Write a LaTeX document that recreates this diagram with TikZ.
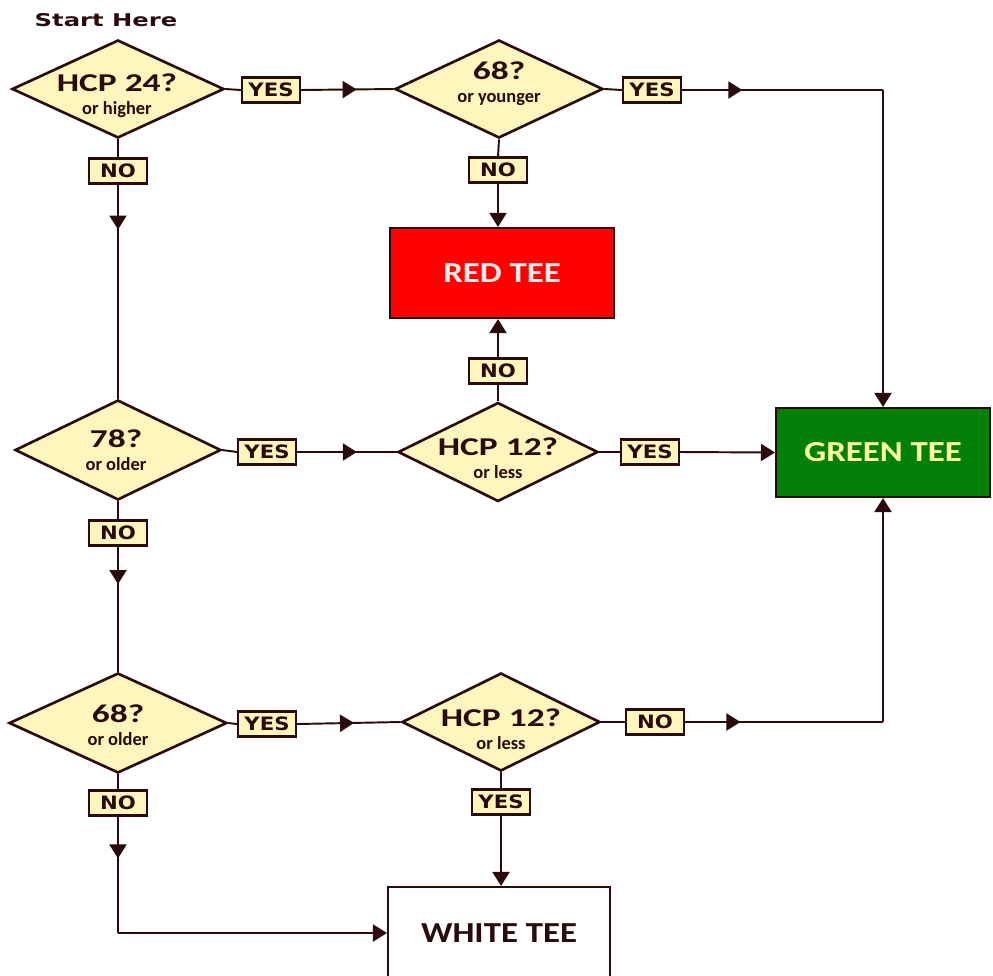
\documentclass[tikz,border=0pt]{standalone}
\usepackage{fontspec}
\usetikzlibrary{shapes.geometric,arrows.meta,decorations.markings}
\newfontfamily\dfont[FakeStretch=1.38]{Carlito}
\newfontfamily\sfontx{Carlito}
\newfontfamily\tfont[FakeStretch=1.2]{Carlito}
\newfontfamily\lfont[FakeStretch=1.15]{DejaVu Sans}
\newfontfamily\hfont[FakeStretch=1.38]{DejaVu Sans}
\definecolor{dk}{RGB}{42,10,10}
\definecolor{pale}{RGB}{255,246,190}
\definecolor{tgreen}{RGB}{2,128,8}
\definecolor{tred}{RGB}{255,0,0}
\definecolor{gtext}{RGB}{255,255,160}
\tikzset{
  dia/.style={shape=diamond, draw=dk, fill=pale, line width=1.5pt, inner sep=0pt},
  dtext/.style={align=center, text=dk, inner sep=0pt},
  lab/.style={draw=dk, fill=pale, line width=1.2pt, minimum width=1.16cm, minimum height=0.5cm, inner sep=0pt, font=\lfont\bfseries\fontsize{10.5}{12}\selectfont, text=dk},
  teebox/.style={draw=dk, line width=1.2pt, inner sep=0pt, font=\tfont\bfseries\fontsize{16.5}{18}\selectfont},
  conn/.style={draw=dk, line width=1.1pt},
  tip/.style={-{Triangle[length=0.28cm,width=0.34cm]}},
  marrow/.style={postaction={decorate}, decoration={markings, mark=at position #1 with {\arrow{Triangle[length=0.28cm,width=0.34cm]}}}}
}
\newcommand\qbig[1]{{\dfont\bfseries\fontsize{14.6}{15}\selectfont #1}}
\newcommand\qsmall[1]{{\sfontx\bfseries\fontsize{10.5}{11}\selectfont #1}}
\begin{document}
\begin{tikzpicture}[x=0.02cm, y=-0.02cm]
\useasboundingbox (0,0) rectangle (993,975);
\fill[white] (0,0) rectangle (993,975);

\node[text=dk, font=\hfont\bfseries\fontsize{10}{12}\selectfont] (start) at (106,20) {Start Here};

% diamonds
\node[dia, minimum width=4.24cm, minimum height=1.96cm] (d1) at (118,89) {};
\node[dia, minimum width=4.16cm, minimum height=1.96cm] (d2) at (499,89) {};
\node[dia, minimum width=4.12cm, minimum height=2.0cm] (d3) at (118,450) {};
\node[dia, minimum width=4.0cm, minimum height=1.98cm] (d4) at (498,452) {};
\node[dia, minimum width=4.36cm, minimum height=2.0cm] (d5) at (118,723) {};
\node[dia, minimum width=3.96cm, minimum height=1.96cm] (d6) at (501,722) {};

\node[dtext] (t1) at (117,96) {\qbig{HCP 24?}\\[1pt]\qsmall{or higher}};
\node[dtext] (t2) at (499,84) {\qbig{68?}\\[1pt]\qsmall{or younger}};
\node[dtext] (t3) at (116,450) {\qbig{78?}\\[1pt]\qsmall{or older}};
\node[dtext] (t4) at (498,458) {\qbig{HCP 12?}\\[1pt]\qsmall{or less}};
\node[dtext] (t5) at (118,725) {\qbig{68?}\\[1pt]\qsmall{or older}};
\node[dtext] (t6) at (501,729) {\qbig{HCP 12?}\\[1pt]\qsmall{or less}};

% tee boxes
\node[teebox, fill=tred, text={rgb,255:red,255;green,236;blue,236}, minimum width=4.48cm, minimum height=1.8cm] (red) at (502,273) {RED TEE};
\node[teebox, fill=tgreen, text=gtext, minimum width=4.28cm, minimum height=1.78cm] (green) at (883,452.5) {GREEN TEE};
\node[teebox, fill=white, text=dk, minimum width=4.44cm, minimum height=1.84cm] (white) at (499,933) {WHITE TEE};

% labels
\node[lab] (y1) at (271,90) {YES};
\node[lab] (n1) at (118,171) {NO};
\node[lab] (y2) at (652,90) {YES};
\node[lab] (n2) at (498,170) {NO};
\node[lab] (n4) at (498,371) {NO};
\node[lab] (y3) at (267,452) {YES};
\node[lab] (y4) at (650,452) {YES};
\node[lab] (n3) at (118,533) {NO};
\node[lab] (y5) at (267,724) {YES};
\node[lab] (n6) at (655,722) {NO};
\node[lab] (y6) at (501,802) {YES};
\node[lab] (n5) at (118,803) {NO};

% corners
\coordinate (c1) at (green.north |- y2.east);
\coordinate (c2) at (green.south |- n6.east);
\coordinate (c3) at (n5.south |- white.west);

% connectors
\draw[conn] (d1.east) -- (y1.west);
\draw[conn, marrow=0.6] (y1.east) -- (d2.west);
\draw[conn] (d2.east) -- (y2.west);
\draw[conn, marrow=0.3] (y2.east) -- (c1);
\draw[conn, tip] (c1) -- (green.north);
\draw[conn] (d2.south) -- (n2.north);
\draw[conn, tip] (n2.south) -- (n2.south |- red.north);
\draw[conn] (d4.north) -- (n4.south);
\draw[conn, tip] (n4.north) -- (n4.north |- red.south);
\draw[conn] (d1.south) -- (n1.north);
\draw[conn, marrow=0.21] (n1.south) -- (d3.north);
\draw[conn] (d3.east) -- (y3.west);
\draw[conn, marrow=0.6] (y3.east) -- (d4.west);
\draw[conn] (d4.east) -- (y4.west);
\draw[conn, tip] (y4.east) -- (green.west);
\draw[conn] (d3.south) -- (n3.north);
\draw[conn, marrow=0.3] (n3.south) -- (d5.north);
\draw[conn] (d5.east) -- (y5.west);
\draw[conn, marrow=0.55] (y5.east) -- (d6.west);
\draw[conn] (d6.east) -- (n6.west);
\draw[conn, marrow=0.28] (n6.east) -- (c2);
\draw[conn, tip] (c2) -- (green.south);
\draw[conn] (d6.south) -- (y6.north);
\draw[conn, tip] (y6.south) -- (y6.south |- white.north);
\draw[conn] (d5.south) -- (n5.north);
\draw[conn, marrow=0.36] (n5.south) -- (c3);
\draw[conn, tip] (c3) -- (white.west);
\end{tikzpicture}
\end{document}
